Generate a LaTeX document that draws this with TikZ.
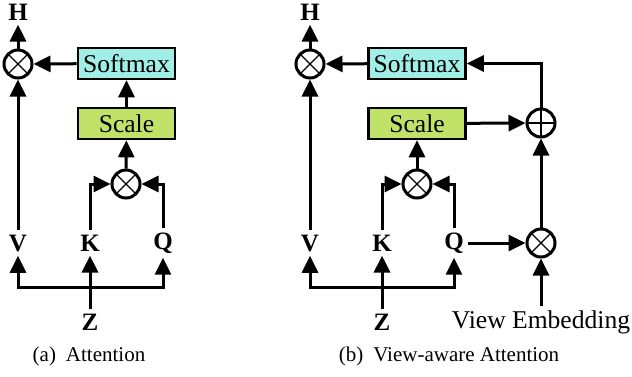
\documentclass[tikz,border=0pt]{standalone}
\usepackage{fontspec}
\setmainfont{Liberation Serif}
\usetikzlibrary{arrows.meta,positioning,calc}

\definecolor{softcyan}{RGB}{160,238,230}
\definecolor{scalegreen}{RGB}{192,226,104}

\tikzset{
    arr/.style={line width=1.5pt, -{Triangle[length=8.5pt,width=8pt]}},
    op/.style={circle, draw, line width=1.5pt, minimum size=14pt, inner sep=0pt},
    mult/.style={op, path picture={
        \draw[line width=0.6pt] (path picture bounding box.north west) -- (path picture bounding box.south east)
                                (path picture bounding box.north east) -- (path picture bounding box.south west);}},
    add/.style={op, path picture={
        \draw[line width=0.7pt] (path picture bounding box.north) -- (path picture bounding box.south)
                                (path picture bounding box.east) -- (path picture bounding box.west);}},
    block/.style={draw, line width=1.3pt, minimum width=48.5pt, minimum height=15.5pt, inner sep=0pt,
        font=\fontsize{12.8}{14}\selectfont},
    var/.style={inner sep=2pt, font=\fontsize{12.5}{14}\selectfont\bfseries},
    caption/.style={font=\fontsize{10.5}{12}\selectfont}
}

\begin{document}
\begin{tikzpicture}[x=0.5pt, y=-0.5pt]
    \useasboundingbox (0,0) rectangle (632,376);

    % (a) plain attention
    \node[var] (Ha) at (18,12) {H};
    \node[mult] (outa) at (18,64) {};
    \node[block, fill=softcyan] (softa) at (126.5,63.5) {Softmax};
    \node[block, fill=scalegreen] (scalea) at (126.5,123.5) {Scale};
    \node[mult] (qka) at (126,184) {};
    \node[var] (Va) at (18,243) {V};
    \node[var] (Ka) at (90,243) {K};
    \node[var] (Qa) at (163,243) {Q};
    \node[var] (Za) at (90,322) {Z};
    \coordinate (busa) at (90,287);

    \draw[arr] (Za) -- (Ka);
    \draw[arr] (busa) -| (Va);
    \draw[arr] (busa) -| (Qa);
    \draw[arr] (Ka) |- (qka);
    \draw[arr] (Qa) |- (qka);
    \draw[arr] (qka) -- (scalea);
    \draw[arr] (scalea) -- (softa);
    \draw[arr] (softa) -- (outa);
    \draw[arr] (Va) -- (outa);
    \draw[arr] (outa) -- (Ha);

    \node[caption] (capa) at (89,356) {(a)\hspace{5pt}Attention};

    % (b) view-aware attention
    \node[var] (Hb) at (310,12) {H};
    \node[mult] (outb) at (310,64) {};
    \node[block, fill=softcyan] (softb) at (417,63.5) {Softmax};
    \node[block, fill=scalegreen] (scaleb) at (417,123.5) {Scale};
    \node[add] (sumb) at (541,123) {};
    \node[mult] (qkb) at (417,184) {};
    \node[var] (Vb) at (310,243) {V};
    \node[var] (Kb) at (382,243) {K};
    \node[var] (Qb) at (454,243) {Q};
    \node[mult] (viewb) at (541,243) {};
    \node[var] (Zb) at (382,322) {Z};
    \node[inner sep=2pt, font=\fontsize{12.8}{15}\selectfont] (emb) at (541,322) {View Embedding};
    \coordinate (busb) at (382,287);

    \draw[arr] (Zb) -- (Kb);
    \draw[arr] (busb) -| (Vb);
    \draw[arr] (busb) -| (Qb);
    \draw[arr] (Kb) |- (qkb);
    \draw[arr] (Qb) |- (qkb);
    \draw[arr] (qkb) -- (scaleb);
    \draw[arr] (scaleb) -- (sumb);
    \draw[arr] (Qb) -- (viewb);
    \draw[arr] (emb) -- (viewb);
    \draw[arr] (viewb) -- (sumb);
    \draw[arr] (sumb) |- (softb);
    \draw[arr] (softb) -- (outb);
    \draw[arr] (Vb) -- (outb);
    \draw[arr] (outb) -- (Hb);

    \node[caption] (capb) at (449,356) {(b)\hspace{5pt}View-aware Attention};
\end{tikzpicture}
\end{document}
